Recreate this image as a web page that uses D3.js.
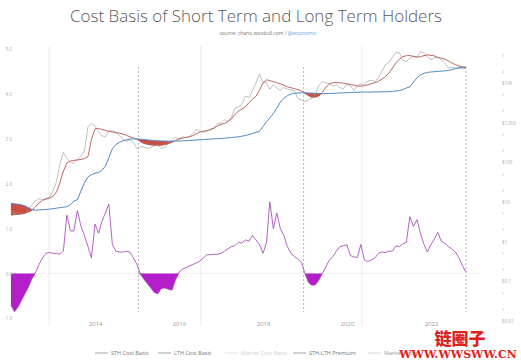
<!DOCTYPE html>
<html lang="en">
<head>
<meta charset="utf-8">
<title>Cost Basis of Short Term and Long Term Holders</title>
<script src="https://d3js.org/d3.v7.min.js"></script>
<style>
  body { margin: 0; background: #fff; }
  text { font-family: "Open Sans", sans-serif; }
</style>
</head>
<body>
<script>

var w = 521;
var h = 363;

// monthly points, Jan 2012 .. Nov 2022
var months = d3.timeMonth.range(new Date(2012, 0, 1), new Date(2022, 11, 1));

var price = [6.0, 5.2, 4.9, 5.0, 5.1, 6.4, 8.7, 10.5, 12.2, 11.3, 12.3, 13.4,
  19, 33, 90, 180, 128, 100, 95, 120, 140, 190, 800, 950,
  820, 600, 470, 440, 620, 630, 585, 480, 390, 335, 375, 320,
  220, 250, 245, 225, 235, 260, 280, 225, 238, 310, 360, 430,
  375, 435, 415, 450, 530, 670, 620, 575, 608, 700, 740, 960,
  970, 1180, 1070, 1350, 2300, 2500, 2850, 4700, 4300, 6400, 10000, 17000,
  10200, 10400, 6900, 9200, 7500, 6400, 7700, 7000, 6600, 6300, 4000, 3700,
  3450, 3800, 4100, 5300, 8600, 10800, 10100, 9600, 8300, 9200, 7600, 7200,
  9350, 8600, 6400, 8600, 9450, 9150, 11300, 11650, 10800, 13800, 19700, 29000,
  33100, 45200, 58800, 57700, 37300, 35000, 41500, 47100, 43800, 61300, 57000, 46300,
  38500, 43200, 45500, 37700, 31800, 24000, 25000, 24000, 23500, 23000, 23500];

var sthBasis = [4.7, 4.8, 4.9, 5.0, 5.2, 5.6, 6.2, 7.5, 9.5, 11, 11.8, 12.5,
  14, 18, 30, 60, 95, 108, 112, 115, 118, 125, 140, 380,
  700, 710, 680, 640, 600, 580, 560, 545, 520, 480, 440, 410,
  385, 330, 300, 285, 275, 270, 268, 270, 280, 295, 320, 350,
  390, 410, 425, 440, 470, 530, 580, 610, 630, 660, 720, 830,
  900, 960, 1050, 1250, 1600, 1950, 2200, 2500, 3200, 3900, 4600, 6500,
  10000, 12000, 11500, 10800, 10200, 9500, 8800, 8000, 7600, 7200, 6800, 6300,
  5500, 4800, 4400, 4400, 4700, 5800, 7800, 9300, 10200, 10300, 10100, 9900,
  9500, 9200, 8800, 8400, 8300, 8600, 9000, 9600, 10200, 11000, 12500, 14500,
  18000, 24000, 32000, 40000, 46000, 49000, 49000, 47000, 45000, 46000, 49000, 51000,
  50000, 48000, 44000, 42000, 40000, 36000, 32000, 29000, 27000, 25500, 24500];

var lthBasis = [9.2, 9.0, 8.8, 8.5, 8.0, 7.2, 6.5, 6.2, 6.3, 6.4, 6.5, 6.6,
  6.8, 7.0, 7.2, 7.4, 7.6, 8.5, 10.5, 11.5, 19, 30, 43, 49,
  53, 56, 62, 80, 130, 220, 280, 320, 350, 370, 385, 390,
  388, 383, 375, 368, 360, 352, 348, 345, 343, 342, 342, 343,
  345, 348, 352, 356, 360, 365, 370, 375, 380, 385, 390, 395,
  400, 408, 415, 422, 430, 440, 455, 475, 500, 530, 570, 600,
  800, 1050, 1310, 1700, 2300, 3300, 4100, 4800, 5300, 5500, 5600, 5650,
  5650, 5600, 5550, 5500, 5450, 5400, 5400, 5450, 5500, 5550, 5600, 5650,
  5700, 5750, 5800, 5850, 5900, 5900, 5900, 5900, 5950, 5950, 6000, 6000,
  6050, 6100, 6300, 6500, 6800, 7500, 8000, 10500, 13500, 16000, 17500, 18500,
  19000, 19300, 19600, 19900, 20200, 20800, 21800, 23000, 24300, 25000, 25300];

var premium = [-0.7, -0.85, -0.75, -0.6, -0.45, -0.3, -0.12, 0.02, 0.2, 0.35, 0.45, 0.47,
  0.45, 0.45, 0.43, 0.5, 1.3, 0.95, 0.95, 1.4, 1.05, 0.85, 0.6, 0.35,
  1.1, 0.9, 1.15, 1.35, 1.55, 0.65, 0.5, 0.48, 0.48, 0.5, 0.48, 0.35,
  0.2, -0.02, -0.12, -0.22, -0.32, -0.42, -0.45, -0.33, -0.32, -0.35, -0.37, -0.15,
  0.03, 0.1, 0.13, 0.17, 0.2, 0.24, 0.28, 0.35, 0.42, 0.42, 0.43, 0.43,
  0.45, 0.5, 0.55, 0.6, 0.62, 0.7, 0.68, 0.75, 0.72, 0.85, 0.75, 0.65,
  0.45, 0.7, 1.6, 1.0, 1.35, 1.0, 0.85, 0.6, 0.45, 0.38, 0.32, 0.25,
  0.0, -0.2, -0.26, -0.25, -0.15, 0.0, 0.15, 0.3, 0.38, 0.5, 0.6, 0.62,
  0.64, 0.4, 0.37, 0.36, 0.65, 0.3, 0.27, 0.3, 0.35, 0.45, 0.48, 0.47,
  0.5, 0.5, 0.62, 0.6, 0.66, 0.7, 1.27, 1.05, 1.2, 0.9, 0.65, 0.48,
  0.65, 0.78, 0.92, 0.72, 0.68, 0.6, 0.55, 0.48, 0.35, 0.18, 0.03];

var halvings = ["2012-11-28", "2016-07-09", "2020-05-11"];
var cycleLows = ["2015-01-14", "2018-12-20", "2022-11-01"];

var yearTicks = [2014, 2016, 2018, 2020, 2022];
var premiumTicks = [-1, 0, 1, 2, 3, 4, 5];
var priceTicks = [0.01, 0.1, 1, 10, 100, 1000, 10000];
var priceMinor = [0.02, 0.05, 0.2, 0.5, 2, 5, 20, 50, 200, 500, 2000, 5000, 20000, 50000];
var priceLabels = ["$0.01", "$0.1", "$1", "$10", "$100", "$1,000", "$10k"];

var legendNames = ["STH Cost Basis", "LTH Cost Basis", "Market Cost Basis", "STH-LTH Premium", "Market Price"];
var legendColors = ["#8a8a8a", "#8a8a8a", "#dddddd", "#8a8a8a", "#cccccc"];
var legendText = ["#777", "#777", "#cfcfcf", "#777", "#999"];

var parseDay = d3.timeParse("%Y-%m-%d");

var xScale = d3.scaleTime()
  .domain([new Date(2014, 0, 1), new Date(2022, 0, 1)])
  .range([95, 431]);

var yPrice = d3.scaleLog()
  .domain([0.01, 10000])
  .range([321, 83]);

var yPrem = d3.scaleLinear()
  .domain([-1, 5])
  .range([318.5, 49]);

var rows = months.map(function(m, i) {
  return { date: m, price: price[i], sth: sthBasis[i], lth: lthBasis[i], prem: premium[i] };
});

var svg = d3.select("body")
  .append("svg")
  .attr("width", w)
  .attr("height", h);

svg.append("rect").attr("width", w).attr("height", h).attr("fill", "#fff");

// title
svg.append("text")
  .attr("x", 256)
  .attr("y", 22)
  .attr("text-anchor", "middle")
  .style("font-size", "17px")
  .style("font-weight", 300)
  .attr("fill", "#5a5a5a")
  .text("Cost Basis of Short Term and Long Term Holders");

var sub = svg.append("text")
  .attr("x", 268)
  .attr("y", 35)
  .attr("text-anchor", "middle")
  .style("font-size", "5px")
  .attr("fill", "#777");
sub.append("tspan").text("source: charts.woobull.com / ");
sub.append("tspan").attr("fill", "#6a9fd8").text("@woonomic");

// zero line of the premium
svg.append("line")
  .attr("x1", 12).attr("x2", 480)
  .attr("y1", yPrem(0)).attr("y2", yPrem(0))
  .attr("stroke", "#ececec")
  .attr("stroke-width", 0.8);

// halving lines
svg.selectAll(".halving")
  .data(halvings)
  .enter()
  .append("line")
  .attr("class", "halving")
  .attr("x1", function(d) { return xScale(parseDay(d)); })
  .attr("x2", function(d) { return xScale(parseDay(d)); })
  .attr("y1", 46)
  .attr("y2", 326)
  .attr("stroke", "#e6e6e6")
  .attr("stroke-width", 0.8);

// cycle lows
svg.selectAll(".cycle")
  .data(cycleLows)
  .enter()
  .append("line")
  .attr("class", "cycle")
  .attr("x1", function(d) { return xScale(parseDay(d)); })
  .attr("x2", function(d) { return xScale(parseDay(d)); })
  .attr("y1", 67)
  .attr("y2", 312)
  .attr("stroke", "#9a9a9a")
  .attr("stroke-width", 0.7)
  .attr("stroke-dasharray", "2,2");

// red fill where STH cost basis is under LTH
var redArea = d3.area()
  .x(function(d) { return xScale(d.date); })
  .y0(function(d) { return yPrice(d.lth); })
  .y1(function(d) { return yPrice(Math.min(d.sth, d.lth)); });

svg.append("path")
  .datum(rows)
  .attr("fill", "#c43b2c")
  .attr("opacity", 0.9)
  .attr("d", redArea);

// purple fill where premium is negative
var purpleArea = d3.area()
  .x(function(d) { return xScale(d.date); })
  .y0(yPrem(0))
  .y1(function(d) { return yPrem(Math.min(0, d.prem)); });

svg.append("path")
  .datum(rows)
  .attr("fill", "#b41ec8")
  .attr("d", purpleArea);

function lineFor(key, scale) {
  return d3.line()
    .x(function(d) { return xScale(d.date); })
    .y(function(d) { return scale(d[key]); });
}

svg.append("path")
  .datum(rows)
  .attr("fill", "none")
  .attr("stroke", "#a5a5a5")
  .attr("stroke-width", 0.7)
  .attr("d", lineFor("price", yPrice));

svg.append("path")
  .datum(rows)
  .attr("fill", "none")
  .attr("stroke", "#b4574c")
  .attr("stroke-width", 0.9)
  .attr("d", lineFor("sth", yPrice));

svg.append("path")
  .datum(rows)
  .attr("fill", "none")
  .attr("stroke", "#4f88c6")
  .attr("stroke-width", 1)
  .attr("d", lineFor("lth", yPrice));

svg.append("path")
  .datum(rows)
  .attr("fill", "none")
  .attr("stroke", "#a846bb")
  .attr("stroke-width", 0.85)
  .attr("d", lineFor("prem", yPrem));

// axes (labels only)
var xAxis = d3.axisBottom(xScale)
  .tickValues(yearTicks.map(function(y) { return new Date(y, 0, 1); }))
  .tickFormat(d3.timeFormat("%Y"))
  .tickSize(0);

svg.append("g")
  .attr("transform", "translate(0,319)")
  .call(xAxis)
  .call(function(g) { g.select(".domain").remove(); })
  .selectAll("text")
  .style("font-size", "6px")
  .attr("fill", "#999");

var leftAxis = d3.axisLeft(yPrem)
  .tickValues(premiumTicks)
  .tickFormat(d3.format(".1f"))
  .tickSize(0);

svg.append("g")
  .attr("transform", "translate(15,0)")
  .call(leftAxis)
  .call(function(g) { g.select(".domain").remove(); })
  .selectAll("text")
  .style("font-size", "4.5px")
  .attr("fill", "#aaa");

var rightAxis = d3.axisRight(yPrice)
  .tickValues(priceTicks)
  .tickFormat(function(d, i) { return priceLabels[i]; })
  .tickSize(0);

svg.append("g")
  .attr("transform", "translate(499,0)")
  .call(rightAxis)
  .call(function(g) { g.select(".domain").remove(); })
  .selectAll("text")
  .style("font-size", "4.5px")
  .attr("fill", "#aaa");

// minor log ticks show only their leading digit
svg.selectAll(".minor")
  .data(priceMinor)
  .enter()
  .append("text")
  .attr("class", "minor")
  .attr("x", 502)
  .attr("y", function(d) { return yPrice(d) + 1.5; })
  .style("font-size", "4px")
  .attr("fill", "#bbb")
  .text(function(d) { var s = String(d); return d < 1 ? s.charAt(s.length - 1) : s.charAt(0); });

// legend
var legendX = [95, 158, 225, 293, 368];

var legend = svg.selectAll(".legend")
  .data(legendNames)
  .enter()
  .append("g")
  .attr("class", "legend")
  .attr("transform", function(d, i) { return "translate(" + legendX[i] + ",353)"; });

legend.append("line")
  .attr("x1", 0).attr("x2", 13)
  .attr("y1", 0).attr("y2", 0)
  .attr("stroke", function(d, i) { return legendColors[i]; })
  .attr("stroke-width", 0.8);

legend.append("text")
  .attr("x", 16)
  .attr("y", 1.8)
  .style("font-size", "5.5px")
  .attr("fill", function(d, i) { return legendText[i]; })
  .text(function(d) { return d; });

// watermark
svg.append("text")
  .attr("x", 460)
  .attr("y", 345)
  .attr("text-anchor", "middle")
  .style("font-family", "'Noto Sans CJK SC', sans-serif")
  .style("font-size", "17px")
  .style("font-weight", 900)
  .attr("fill", "#e0221b")
  .text("链圈子");

svg.append("text")
  .attr("x", 458)
  .attr("y", 358)
  .attr("text-anchor", "middle")
  .style("font-family", "'DejaVu Serif', serif")
  .style("font-size", "11px")
  .style("font-weight", "bold")
  .attr("fill", "#e0221b")
  .text("WWW.WWSWW.CN");

</script>
</body>
</html>
